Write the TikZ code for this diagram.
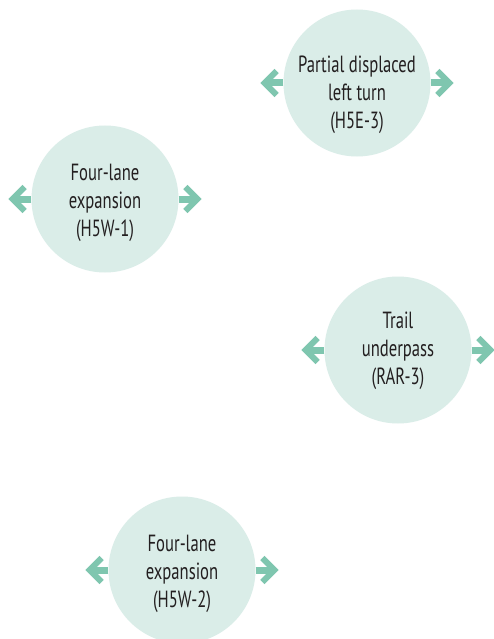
\documentclass[tikz,border=0pt]{standalone}
\usepackage{fontspec}
\setmainfont{PT Sans}[FakeStretch=0.71]
\usepackage{xcolor}
\usepackage{tikz}
\usetikzlibrary{arrows.meta}
\definecolor{bg}{HTML}{FFFFFF}
\definecolor{disc}{HTML}{DAEDE8}
\definecolor{teal}{HTML}{7FC6AF}
\definecolor{ink}{HTML}{231F20}
\tikzset{
  stop/.style={circle, fill=disc, draw=none, minimum size=147bp, inner sep=0pt},
  stopLbl/.style={text=ink, align=center, font=\fontsize{23.5}{28}\selectfont},
  sideArrow/.style={draw=teal, line width=7bp,
    -{Straight Barb[length=12bp, width=24bp, line width=6bp]}},
}
\begin{document}
\begin{tikzpicture}[x=1bp, y=-1bp]
  \useasboundingbox[fill=bg] (0,0) rectangle (494,639);
  \clip (0,0) rectangle (494,639);

  % stops
  \node[stop] (s1) at (357,83)  {};
  \node[stop] (s2) at (105,199) {};
  \node[stop] (s3) at (398,350) {};
  \node[stop] (s4) at (182,570) {};

  % labels
  \node[stopLbl] (l1) at (357,95)  {Partial displaced\\left turn\\(H5E-3)};
  \node[stopLbl] (l2) at (105,203) {Four-lane\\expansion\\(H5W-1)};
  \node[stopLbl] (l3) at (398,351) {Trail\\underpass\\(RAR-3)};
  \node[stopLbl] (l4) at (182,574) {Four-lane\\expansion\\(H5W-2)};

  % arrows both ways
  \foreach \s in {s1,s2,s3,s4}{
    \draw[sideArrow] (\s.west) -- ++(-23,0);
    \draw[sideArrow] (\s.east) -- ++(23,0);
  }
\end{tikzpicture}
\end{document}
